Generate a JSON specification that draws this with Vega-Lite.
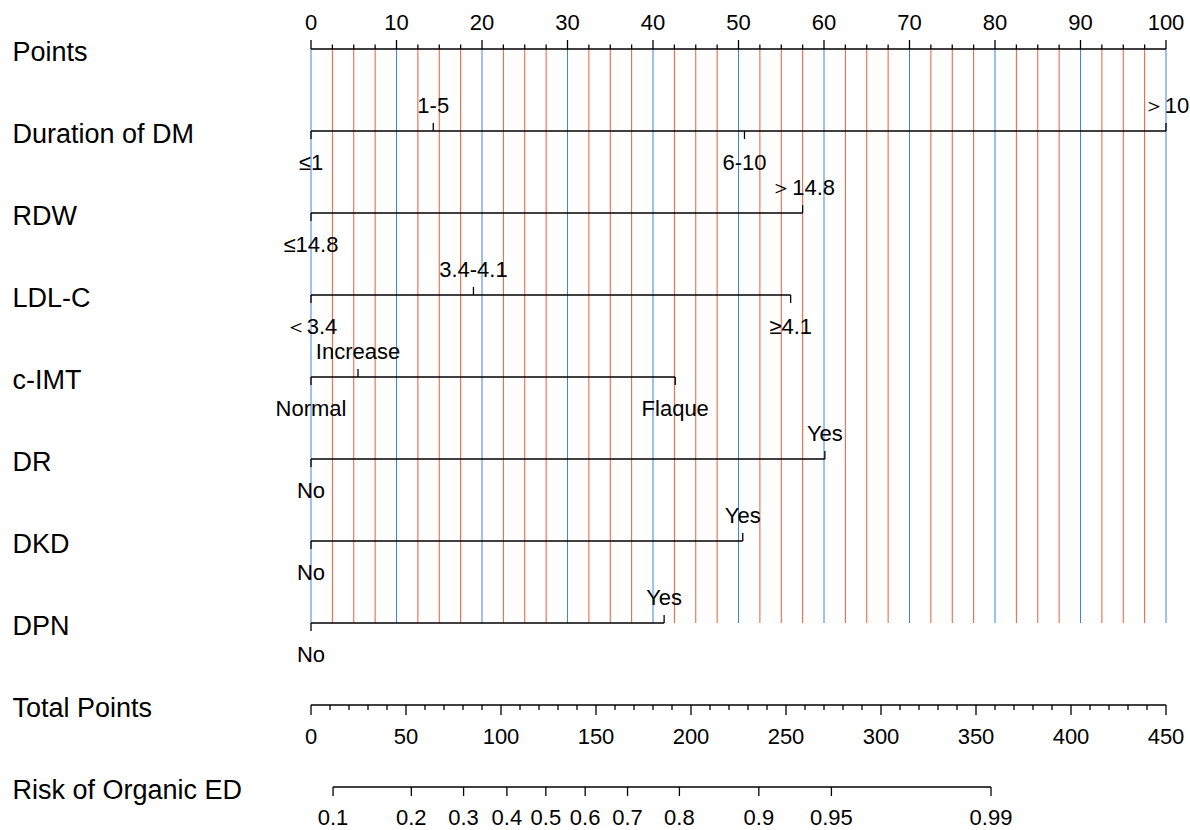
{
  "$schema": "https://vega.github.io/schema/vega-lite/v6.json",
  "width": 855,
  "height": 738,
  "autosize": {"type": "none"},
  "padding": {"left": 311, "top": 49, "right": 24, "bottom": 43},
  "background": "white",
  "config": {
    "view": {"stroke": null},
    "text": {"font": "Liberation Sans", "fontSize": 22, "color": "black"},
    "rule": {"color": "black", "strokeWidth": 1.3}
  },
  "datasets": {
    "pts": [
      {"v": 0, "kind": "major", "row": 0}, {"v": 2.5, "kind": "minor", "row": 0}, {"v": 5, "kind": "minor", "row": 0}, {"v": 7.5, "kind": "minor", "row": 0},
      {"v": 10, "kind": "major", "row": 0}, {"v": 12.5, "kind": "minor", "row": 0}, {"v": 15, "kind": "minor", "row": 0}, {"v": 17.5, "kind": "minor", "row": 0},
      {"v": 20, "kind": "major", "row": 0}, {"v": 22.5, "kind": "minor", "row": 0}, {"v": 25, "kind": "minor", "row": 0}, {"v": 27.5, "kind": "minor", "row": 0},
      {"v": 30, "kind": "major", "row": 0}, {"v": 32.5, "kind": "minor", "row": 0}, {"v": 35, "kind": "minor", "row": 0}, {"v": 37.5, "kind": "minor", "row": 0},
      {"v": 40, "kind": "major", "row": 0}, {"v": 42.5, "kind": "minor", "row": 0}, {"v": 45, "kind": "minor", "row": 0}, {"v": 47.5, "kind": "minor", "row": 0},
      {"v": 50, "kind": "major", "row": 0}, {"v": 52.5, "kind": "minor", "row": 0}, {"v": 55, "kind": "minor", "row": 0}, {"v": 57.5, "kind": "minor", "row": 0},
      {"v": 60, "kind": "major", "row": 0}, {"v": 62.5, "kind": "minor", "row": 0}, {"v": 65, "kind": "minor", "row": 0}, {"v": 67.5, "kind": "minor", "row": 0},
      {"v": 70, "kind": "major", "row": 0}, {"v": 72.5, "kind": "minor", "row": 0}, {"v": 75, "kind": "minor", "row": 0}, {"v": 77.5, "kind": "minor", "row": 0},
      {"v": 80, "kind": "major", "row": 0}, {"v": 82.5, "kind": "minor", "row": 0}, {"v": 85, "kind": "minor", "row": 0}, {"v": 87.5, "kind": "minor", "row": 0},
      {"v": 90, "kind": "major", "row": 0}, {"v": 92.5, "kind": "minor", "row": 0}, {"v": 95, "kind": "minor", "row": 0}, {"v": 97.5, "kind": "minor", "row": 0},
      {"v": 100, "kind": "major", "row": 0}
    ],
    "lev": [
      {"row": 1, "v": 0, "label": "≤1", "side": "below"},
      {"row": 1, "v": 14.3, "label": "1-5", "side": "above"},
      {"row": 1, "v": 50.7, "label": "6-10", "side": "below"},
      {"row": 1, "v": 100, "label": "＞10", "side": "above"},
      {"row": 2, "v": 0, "label": "≤14.8", "side": "below"},
      {"row": 2, "v": 57.5, "label": "＞14.8", "side": "above"},
      {"row": 3, "v": 0, "label": "＜3.4", "side": "below"},
      {"row": 3, "v": 19.0, "label": "3.4-4.1", "side": "above"},
      {"row": 3, "v": 56.1, "label": "≥4.1", "side": "below"},
      {"row": 4, "v": 0, "label": "Normal", "side": "below"},
      {"row": 4, "v": 5.5, "label": "Increase", "side": "above"},
      {"row": 4, "v": 42.6, "label": "Flaque", "side": "below"},
      {"row": 5, "v": 0, "label": "No", "side": "below"},
      {"row": 5, "v": 60.1, "label": "Yes", "side": "above"},
      {"row": 6, "v": 0, "label": "No", "side": "below"},
      {"row": 6, "v": 50.5, "label": "Yes", "side": "above"},
      {"row": 7, "v": 0, "label": "No", "side": "below"},
      {"row": 7, "v": 41.3, "label": "Yes", "side": "above"}
    ],
    "tot": [
      {"t": 0, "kind": "major", "row": 8}, {"t": 10, "kind": "minor", "row": 8}, {"t": 20, "kind": "minor", "row": 8}, {"t": 30, "kind": "minor", "row": 8}, {"t": 40, "kind": "minor", "row": 8},
      {"t": 50, "kind": "major", "row": 8}, {"t": 60, "kind": "minor", "row": 8}, {"t": 70, "kind": "minor", "row": 8}, {"t": 80, "kind": "minor", "row": 8}, {"t": 90, "kind": "minor", "row": 8},
      {"t": 100, "kind": "major", "row": 8}, {"t": 110, "kind": "minor", "row": 8}, {"t": 120, "kind": "minor", "row": 8}, {"t": 130, "kind": "minor", "row": 8}, {"t": 140, "kind": "minor", "row": 8},
      {"t": 150, "kind": "major", "row": 8}, {"t": 160, "kind": "minor", "row": 8}, {"t": 170, "kind": "minor", "row": 8}, {"t": 180, "kind": "minor", "row": 8}, {"t": 190, "kind": "minor", "row": 8},
      {"t": 200, "kind": "major", "row": 8}, {"t": 210, "kind": "minor", "row": 8}, {"t": 220, "kind": "minor", "row": 8}, {"t": 230, "kind": "minor", "row": 8}, {"t": 240, "kind": "minor", "row": 8},
      {"t": 250, "kind": "major", "row": 8}, {"t": 260, "kind": "minor", "row": 8}, {"t": 270, "kind": "minor", "row": 8}, {"t": 280, "kind": "minor", "row": 8}, {"t": 290, "kind": "minor", "row": 8},
      {"t": 300, "kind": "major", "row": 8}, {"t": 310, "kind": "minor", "row": 8}, {"t": 320, "kind": "minor", "row": 8}, {"t": 330, "kind": "minor", "row": 8}, {"t": 340, "kind": "minor", "row": 8},
      {"t": 350, "kind": "major", "row": 8}, {"t": 360, "kind": "minor", "row": 8}, {"t": 370, "kind": "minor", "row": 8}, {"t": 380, "kind": "minor", "row": 8}, {"t": 390, "kind": "minor", "row": 8},
      {"t": 400, "kind": "major", "row": 8}, {"t": 410, "kind": "minor", "row": 8}, {"t": 420, "kind": "minor", "row": 8}, {"t": 430, "kind": "minor", "row": 8}, {"t": 440, "kind": "minor", "row": 8},
      {"t": 450, "kind": "major", "row": 8}
    ],
    "risk": [
      {"t": 11.6, "p": "0.1", "row": 9},
      {"t": 52.8, "p": "0.2", "row": 9},
      {"t": 80.3, "p": "0.3", "row": 9},
      {"t": 103.1, "p": "0.4", "row": 9},
      {"t": 123.6, "p": "0.5", "row": 9},
      {"t": 144.3, "p": "0.6", "row": 9},
      {"t": 166.6, "p": "0.7", "row": 9},
      {"t": 193.9, "p": "0.8", "row": 9},
      {"t": 235.7, "p": "0.9", "row": 9},
      {"t": 273.9, "p": "0.95", "row": 9},
      {"t": 357.9, "p": "0.99", "row": 9}
    ]
  },
  "resolve": {"scale": {"x": "independent", "color": "independent"}},
  "encoding": {
    "y": {
      "field": "row",
      "type": "quantitative",
      "scale": {"domain": [0, 9], "reverse": true, "nice": false, "zero": false},
      "axis": {
        "title": null,
        "values": [0, 1, 2, 3, 4, 5, 6, 7, 8, 9],
        "labelExpr": "['Points', 'Duration of DM', 'RDW', 'LDL-C', 'c-IMT', 'DR', 'DKD', 'DPN', 'Total Points', 'Risk of Organic ED'][datum.value]",
        "domain": false,
        "ticks": false,
        "tickSize": 0,
        "grid": false,
        "labelAlign": "left",
        "labelBaseline": "middle",
        "labelPadding": 299,
        "labelOffset": 3,
        "labelFont": "Liberation Sans",
        "labelFontSize": 27,
        "labelColor": "black",
        "labelLimit": 400,
        "labelOverlap": false,
        "labelFlush": false
      }
    }
  },
  "layer": [
    {
      "data": {"name": "pts"},
      "mark": {"type": "rule", "strokeWidth": 1},
      "encoding": {
        "x": {"field": "v", "type": "quantitative", "scale": {"domain": [0, 100], "nice": false, "zero": false}, "axis": null},
        "y": {
          "datum": 0,
          "type": "quantitative",
          "scale": {"domain": [0, 9], "reverse": true, "nice": false, "zero": false},
          "axis": {
            "title": null,
            "values": [0, 1, 2, 3, 4, 5, 6, 7, 8, 9],
            "labelExpr": "['Points', 'Duration of DM', 'RDW', 'LDL-C', 'c-IMT', 'DR', 'DKD', 'DPN', 'Total Points', 'Risk of Organic ED'][datum.value]",
            "domain": false,
            "ticks": false,
            "tickSize": 0,
            "grid": false,
            "labelAlign": "left",
            "labelBaseline": "middle",
            "labelPadding": 299,
            "labelOffset": 3,
            "labelFont": "Liberation Sans",
            "labelFontSize": 27,
            "labelColor": "black",
            "labelLimit": 400,
            "labelOverlap": false,
            "labelFlush": false
          }
        },
        "y2": {"datum": 7},
        "color": {"field": "kind", "type": "nominal", "scale": {"domain": ["major", "minor"], "range": ["#3a86e8", "#ef5b37"]}, "legend": null}
      }
    },
    {
      "data": {"name": "pts"},
      "mark": {"type": "rule"},
      "encoding": {
        "x": {"aggregate": "min", "field": "v", "type": "quantitative", "scale": {"domain": [0, 100], "nice": false, "zero": false}, "axis": null},
        "x2": {"aggregate": "max", "field": "v"}
      }
    },
    {
      "data": {"name": "pts"},
      "transform": [{"filter": "datum.kind == 'major'"}],
      "mark": {"type": "rule", "y2Offset": -9},
      "encoding": {
        "x": {"field": "v", "type": "quantitative", "scale": {"domain": [0, 100], "nice": false, "zero": false}, "axis": null},
        "y2": {"field": "row"}
      }
    },
    {
      "data": {"name": "pts"},
      "transform": [{"filter": "datum.kind == 'minor'"}],
      "mark": {"type": "rule", "y2Offset": -4.5},
      "encoding": {
        "x": {"field": "v", "type": "quantitative", "scale": {"domain": [0, 100], "nice": false, "zero": false}, "axis": null},
        "y2": {"field": "row"}
      }
    },
    {
      "data": {"name": "pts"},
      "transform": [{"filter": "datum.kind == 'major'"}],
      "mark": {"type": "text", "baseline": "middle", "dy": -26},
      "encoding": {
        "x": {"field": "v", "type": "quantitative", "scale": {"domain": [0, 100], "nice": false, "zero": false}, "axis": null},
        "text": {"field": "v", "type": "nominal"}
      }
    },
    {
      "data": {"name": "lev"},
      "mark": {"type": "rule"},
      "encoding": {
        "x": {"aggregate": "min", "field": "v", "type": "quantitative", "scale": {"domain": [0, 100], "nice": false, "zero": false}, "axis": null},
        "x2": {"aggregate": "max", "field": "v"}
      }
    },
    {
      "data": {"name": "lev"},
      "transform": [{"filter": "datum.side == 'above'"}],
      "mark": {"type": "rule", "y2Offset": -8},
      "encoding": {
        "x": {"field": "v", "type": "quantitative", "scale": {"domain": [0, 100], "nice": false, "zero": false}, "axis": null},
        "y2": {"field": "row"}
      }
    },
    {
      "data": {"name": "lev"},
      "transform": [{"filter": "datum.side == 'below'"}],
      "mark": {"type": "rule", "y2Offset": 8},
      "encoding": {
        "x": {"field": "v", "type": "quantitative", "scale": {"domain": [0, 100], "nice": false, "zero": false}, "axis": null},
        "y2": {"field": "row"}
      }
    },
    {
      "data": {"name": "lev"},
      "transform": [{"filter": "datum.side == 'above'"}],
      "mark": {"type": "text", "baseline": "middle", "dy": -25.5},
      "encoding": {
        "x": {"field": "v", "type": "quantitative", "scale": {"domain": [0, 100], "nice": false, "zero": false}, "axis": null},
        "text": {"field": "label", "type": "nominal"}
      }
    },
    {
      "data": {"name": "lev"},
      "transform": [{"filter": "datum.side == 'below'"}],
      "mark": {"type": "text", "baseline": "middle", "dy": 31.5},
      "encoding": {
        "x": {"field": "v", "type": "quantitative", "scale": {"domain": [0, 100], "nice": false, "zero": false}, "axis": null},
        "text": {"field": "label", "type": "nominal"}
      }
    },
    {
      "data": {"name": "tot"},
      "mark": {"type": "rule"},
      "encoding": {
        "x": {"aggregate": "min", "field": "t", "type": "quantitative", "scale": {"domain": [0, 450], "nice": false, "zero": false}, "axis": null},
        "x2": {"aggregate": "max", "field": "t"}
      }
    },
    {
      "data": {"name": "tot"},
      "transform": [{"filter": "datum.kind == 'major'"}],
      "mark": {"type": "rule", "y2Offset": 10},
      "encoding": {
        "x": {"field": "t", "type": "quantitative", "scale": {"domain": [0, 450], "nice": false, "zero": false}, "axis": null},
        "y2": {"field": "row"}
      }
    },
    {
      "data": {"name": "tot"},
      "transform": [{"filter": "datum.kind == 'minor'"}],
      "mark": {"type": "rule", "y2Offset": 5},
      "encoding": {
        "x": {"field": "t", "type": "quantitative", "scale": {"domain": [0, 450], "nice": false, "zero": false}, "axis": null},
        "y2": {"field": "row"}
      }
    },
    {
      "data": {"name": "tot"},
      "transform": [{"filter": "datum.kind == 'major'"}],
      "mark": {"type": "text", "baseline": "middle", "dy": 31.7},
      "encoding": {
        "x": {"field": "t", "type": "quantitative", "scale": {"domain": [0, 450], "nice": false, "zero": false}, "axis": null},
        "text": {"field": "t", "type": "nominal"}
      }
    },
    {
      "data": {"name": "risk"},
      "mark": {"type": "rule"},
      "encoding": {
        "x": {"aggregate": "min", "field": "t", "type": "quantitative", "scale": {"domain": [0, 450], "nice": false, "zero": false}, "axis": null},
        "x2": {"aggregate": "max", "field": "t"}
      }
    },
    {
      "data": {"name": "risk"},
      "mark": {"type": "rule", "y2Offset": 9},
      "encoding": {
        "x": {"field": "t", "type": "quantitative", "scale": {"domain": [0, 450], "nice": false, "zero": false}, "axis": null},
        "y2": {"field": "row"}
      }
    },
    {
      "data": {"name": "risk"},
      "mark": {"type": "text", "baseline": "middle", "dy": 30.6},
      "encoding": {
        "x": {"field": "t", "type": "quantitative", "scale": {"domain": [0, 450], "nice": false, "zero": false}, "axis": null},
        "text": {"field": "p", "type": "nominal"}
      }
    }
  ]
}
